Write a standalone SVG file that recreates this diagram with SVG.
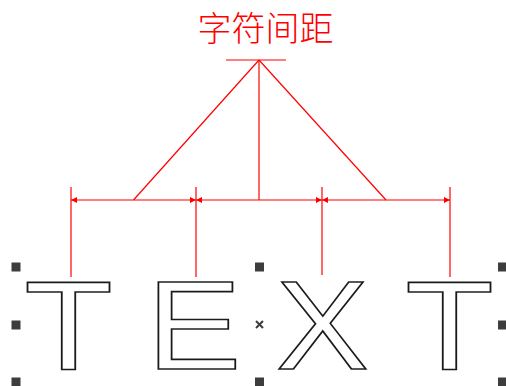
<svg xmlns="http://www.w3.org/2000/svg" width="506" height="386" viewBox="0 0 506 386">
<style>
.dim{stroke:#ff0000;stroke-width:1.2;fill:none}
.ext{stroke:#ff0000;stroke-width:1.2;fill:none}
.letter{font-family:"Liberation Sans",Arial,sans-serif;font-size:126.4px;fill:#ffffff;stroke:#1a1a1a;stroke-width:1.6;stroke-linejoin:miter}
.handle{fill:#3d3d3d}
.title{font-family:"Noto Sans CJK SC","Noto Sans",sans-serif;font-size:34px;fill:#ff0000;font-weight:300}
</style>
<defs>
<marker id="arr" viewBox="0 0 6 6" refX="6" refY="3" markerWidth="6" markerHeight="6" markerUnits="userSpaceOnUse" orient="auto-start-reverse">
<path d="M0,0 L6,3 L0,6 Z" fill="#ff0000"/>
</marker>
</defs>
<rect width="506" height="386" fill="#ffffff"/>
<g id="title">
<text class="title" x="265.5" y="40.5" text-anchor="middle">字符间距</text>
</g>
<g id="connectors">
<line class="ext" x1="226" y1="60" x2="286" y2="60"/>
<line class="ext" x1="259" y1="60" x2="259" y2="200"/>
<line class="ext" x1="259" y1="60" x2="133.5" y2="200"/>
<line class="ext" x1="259" y1="60" x2="386" y2="200"/>
<line class="ext" x1="71" y1="187" x2="71" y2="277"/>
<line class="ext" x1="196" y1="187" x2="196" y2="277"/>
<line class="ext" x1="322" y1="187" x2="322" y2="275"/>
<line class="ext" x1="450" y1="187" x2="450" y2="277"/>
<line class="dim" x1="71" y1="200" x2="196" y2="200" marker-start="url(#arr)" marker-end="url(#arr)"/>
<line class="dim" x1="196" y1="200" x2="322" y2="200" marker-start="url(#arr)" marker-end="url(#arr)"/>
<line class="dim" x1="322" y1="200" x2="450" y2="200" marker-start="url(#arr)" marker-end="url(#arr)"/>
</g>
<g id="text-object">
<text class="letter" x="24.35" y="369" textLength="88.6" lengthAdjust="spacingAndGlyphs">T</text>
<text class="letter" x="146.83" y="369" textLength="94.6" lengthAdjust="spacingAndGlyphs">E</text>
<text class="letter" x="276.14" y="369" textLength="92.7" lengthAdjust="spacingAndGlyphs">X</text>
<text class="letter" x="405.35" y="369" textLength="88.6" lengthAdjust="spacingAndGlyphs">T</text>
</g>
<g id="selection-handles">
<rect class="handle" x="11.5" y="262.5" width="9" height="9"/>
<rect class="handle" x="11.5" y="320.5" width="9" height="9"/>
<rect class="handle" x="11.5" y="377.5" width="9" height="9"/>
<rect class="handle" x="255" y="262.5" width="9" height="9"/>
<rect class="handle" x="255" y="377.5" width="9" height="9"/>
<rect class="handle" x="498" y="262.5" width="9" height="9"/>
<rect class="handle" x="498" y="320.5" width="9" height="9"/>
<rect class="handle" x="498" y="377.5" width="9" height="9"/>
<path d="M256,321 L263,328 M263,321 L256,328" stroke="#3d3d3d" stroke-width="2" fill="none"/>
</g>
</svg>
